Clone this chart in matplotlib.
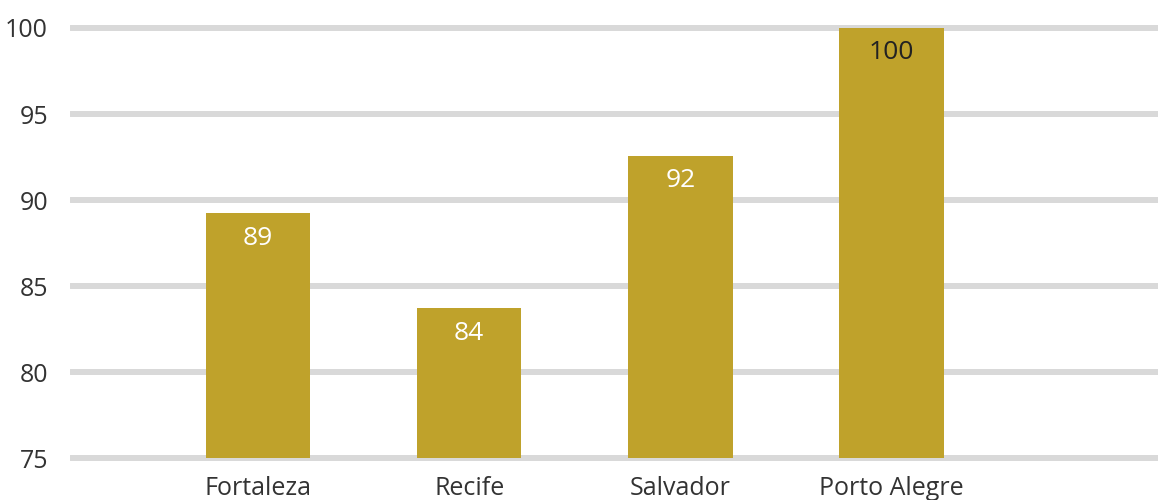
import matplotlib
matplotlib.use("Agg")
import matplotlib.pyplot as plt

# data
cities = ["Fortaleza", "Recife", "Salvador", "Porto Alegre"]
values = [89.24, 83.72, 92.57, 100]
labels = ["89", "84", "92", "100"]
label_colors = ["white", "white", "white", "#222222"]
yticks = [75, 80, 85, 90, 95, 100]

plt.rcParams['font.family'] = ['Open Sans', 'DejaVu Sans']

fig = plt.figure(figsize=(11.58, 5), dpi=100)
ax = fig.add_axes([73 / 1158, 1 - 458.3 / 500, 1 - 73 / 1158, 430.3 / 500])

x = list(range(len(cities)))
ax.bar(x, values, width=0.495, color="#BFA22B", zorder=3)

for xi, v, lab, c in zip(x, values, labels, label_colors):
    ax.annotate(lab, (xi, v), xytext=(0, -18), textcoords="offset points",
                ha="center", va="center", fontsize=19, color=c, zorder=4)

ax.set_ylim(75, 100)
ax.set_xlim(-0.876, 4.262)
ax.set_yticks(yticks)
ax.set_xticks(x)
ax.set_xticklabels(cities)
ax.yaxis.grid(True, color="#d9d9d9", linewidth=4.3)
for gl in ax.get_ygridlines():
    gl.set_clip_on(False)
ax.set_axisbelow(True)
ax.tick_params(axis="y", length=0, pad=18, labelsize=18, labelcolor="#333333")
ax.tick_params(axis="x", length=0, pad=13, labelsize=18, labelcolor="#333333")
for s in ax.spines.values():
    s.set_visible(False)

fig.savefig("out.png", dpi=100)
